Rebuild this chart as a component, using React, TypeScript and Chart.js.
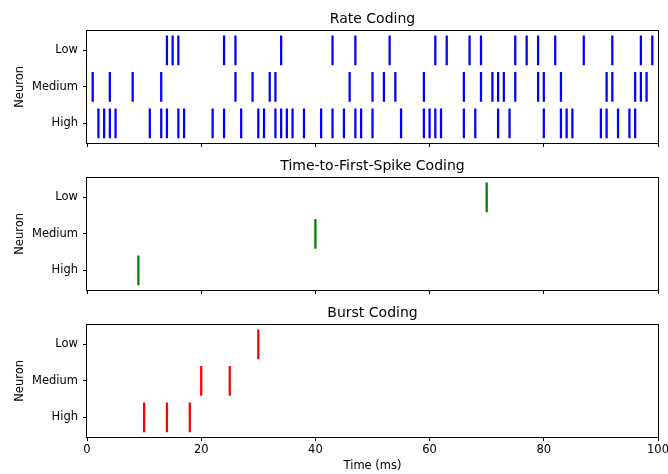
import React, { useEffect, useRef } from 'react';
import { Chart, registerables } from 'chart.js';

Chart.register(...registerables);

// ---- data ----
const neuronLabels = ['High', 'Medium', 'Low']; // row offsets 0, 1, 2
const xTickValues = [0, 20, 40, 60, 80, 100];

const rateLow = [14, 15, 16, 24, 26, 34, 43, 47, 53, 61, 63, 67, 69, 75, 77, 79, 82, 87, 92, 97, 99];
const rateMedium = [1, 4, 8, 13, 26, 29, 32, 33, 46, 50, 52, 54, 59, 66, 69, 71, 72, 73, 75, 79, 80, 83, 91, 92, 96, 97, 98];
const rateHigh = [2, 3, 4, 5, 11, 13, 14, 16, 17, 22, 24, 27, 30, 31, 33, 34, 35, 36, 38, 41, 43, 45, 47, 48, 50, 55, 59, 60, 61, 62, 66, 68, 72, 74, 80, 83, 84, 85, 90, 91, 93, 95, 96];

const ttfsLow = [70];
const ttfsMedium = [40];
const ttfsHigh = [9];

const burstLow = [30];
const burstMedium = [20, 25];
const burstHigh = [10, 14, 18];

const spikeLength = 0.8;

const FONT = 'DejaVu Sans';

type Panel = {
  title: string;
  color: string;
  rows: number[][]; // [high, medium, low]
  showXLabels: boolean;
  height: number;
  top: number;
};

const panels: Panel[] = [
  { title: 'Rate Coding', color: '#0000ff', rows: [rateHigh, rateMedium, rateLow], showXLabels: false, height: 147, top: 0 },
  { title: 'Time-to-First-Spike Coding', color: '#008000', rows: [ttfsHigh, ttfsMedium, ttfsLow], showXLabels: false, height: 147, top: 147 },
  { title: 'Burst Coding', color: '#ff0000', rows: [burstHigh, burstMedium, burstLow], showXLabels: true, height: 180, top: 294 },
];

const framePlugin = {
  id: 'frame',
  afterDraw(chart: any) {
    const { ctx, chartArea } = chart;
    ctx.save();
    ctx.strokeStyle = '#000';
    ctx.lineWidth = 1;
    ctx.strokeRect(
      Math.round(chartArea.left) - 0.5,
      Math.round(chartArea.top) - 0.5,
      Math.round(chartArea.right - chartArea.left) + 1,
      Math.round(chartArea.bottom - chartArea.top) + 1
    );
    ctx.restore();
  },
};

function makeConfig(p: Panel): any {
  const xHeight = p.showXLabels ? 37 : 4;
  return {
    type: 'bar',
    data: {
      datasets: p.rows.map((times, row) => ({
        data: times.map((t) => ({ x: t, y: [row - spikeLength / 2, row + spikeLength / 2] })),
        backgroundColor: p.color,
        borderWidth: 0,
        barThickness: 1.6,
        grouped: false,
      })),
    },
    options: {
      animation: false,
      responsive: false,
      maintainAspectRatio: false,
      layout: { padding: { left: 0, right: 10, top: 0, bottom: 0 } },
      plugins: {
        legend: { display: false },
        tooltip: { enabled: false },
        title: {
          display: true,
          fullSize: false,
          text: p.title,
          color: '#000',
          font: { family: FONT, size: 14, weight: 'normal' },
          padding: { top: 11, bottom: 3 },
        },
      },
      scales: {
        x: {
          type: 'linear',
          min: 0,
          max: 100,
          offset: false,
          grid: { offset: false, drawOnChartArea: false, drawTicks: true, tickLength: 4, color: '#000', lineWidth: 1 },
          border: { display: false },
          ticks: {
            display: p.showXLabels,
            color: '#000',
            font: { family: FONT, size: 11.5 },
            padding: 2,
            maxRotation: 0,
            autoSkip: false,
          },
          title: {
            display: p.showXLabels,
            text: 'Time (ms)',
            color: '#000',
            font: { family: FONT, size: 11.5 },
            padding: { top: 0, bottom: 1 },
          },
          afterBuildTicks: (s: any) => {
            s.ticks = xTickValues.map((v) => ({ value: v }));
          },
          afterFit: (s: any) => {
            s.height = xHeight;
            s.paddingLeft = 0;
            s.paddingRight = 0;
          },
        },
        y: {
          type: 'linear',
          min: -0.54,
          max: 2.54,
          grid: { drawOnChartArea: false, drawTicks: true, tickLength: 4, color: '#000', lineWidth: 1 },
          border: { display: false },
          ticks: {
            color: '#000',
            font: { family: FONT, size: 11.5 },
            padding: 5,
            callback: (v: any) => neuronLabels[v] ?? '',
          },
          title: {
            display: true,
            text: 'Neuron',
            color: '#000',
            font: { family: FONT, size: 11.5 },
            padding: { top: 13, bottom: 0 },
          },
          afterBuildTicks: (s: any) => {
            s.ticks = neuronLabels.map((_, i) => ({ value: i }));
          },
          afterFit: (s: any) => {
            s.width = 87;
            s.paddingTop = 0;
            s.paddingBottom = 0;
          },
        },
      },
    },
    plugins: [framePlugin],
  };
}

export default function App() {
  const refs = [useRef<HTMLCanvasElement>(null), useRef<HTMLCanvasElement>(null), useRef<HTMLCanvasElement>(null)];

  useEffect(() => {
    document.body.style.margin = '0';
    const charts = panels.map((p, i) => new Chart(refs[i].current as HTMLCanvasElement, makeConfig(p)));
    return () => charts.forEach((c) => c.destroy());
  }, []);

  return (
    <div style={{ position: 'relative', width: 668, height: 474, background: '#fff' }}>
      {panels.map((p, i) => (
        <canvas
          key={i}
          ref={refs[i]}
          width={668}
          height={p.height}
          style={{ position: 'absolute', left: 0, top: p.top, width: 668, height: p.height, display: 'block' }}
        />
      ))}
    </div>
  );
}
